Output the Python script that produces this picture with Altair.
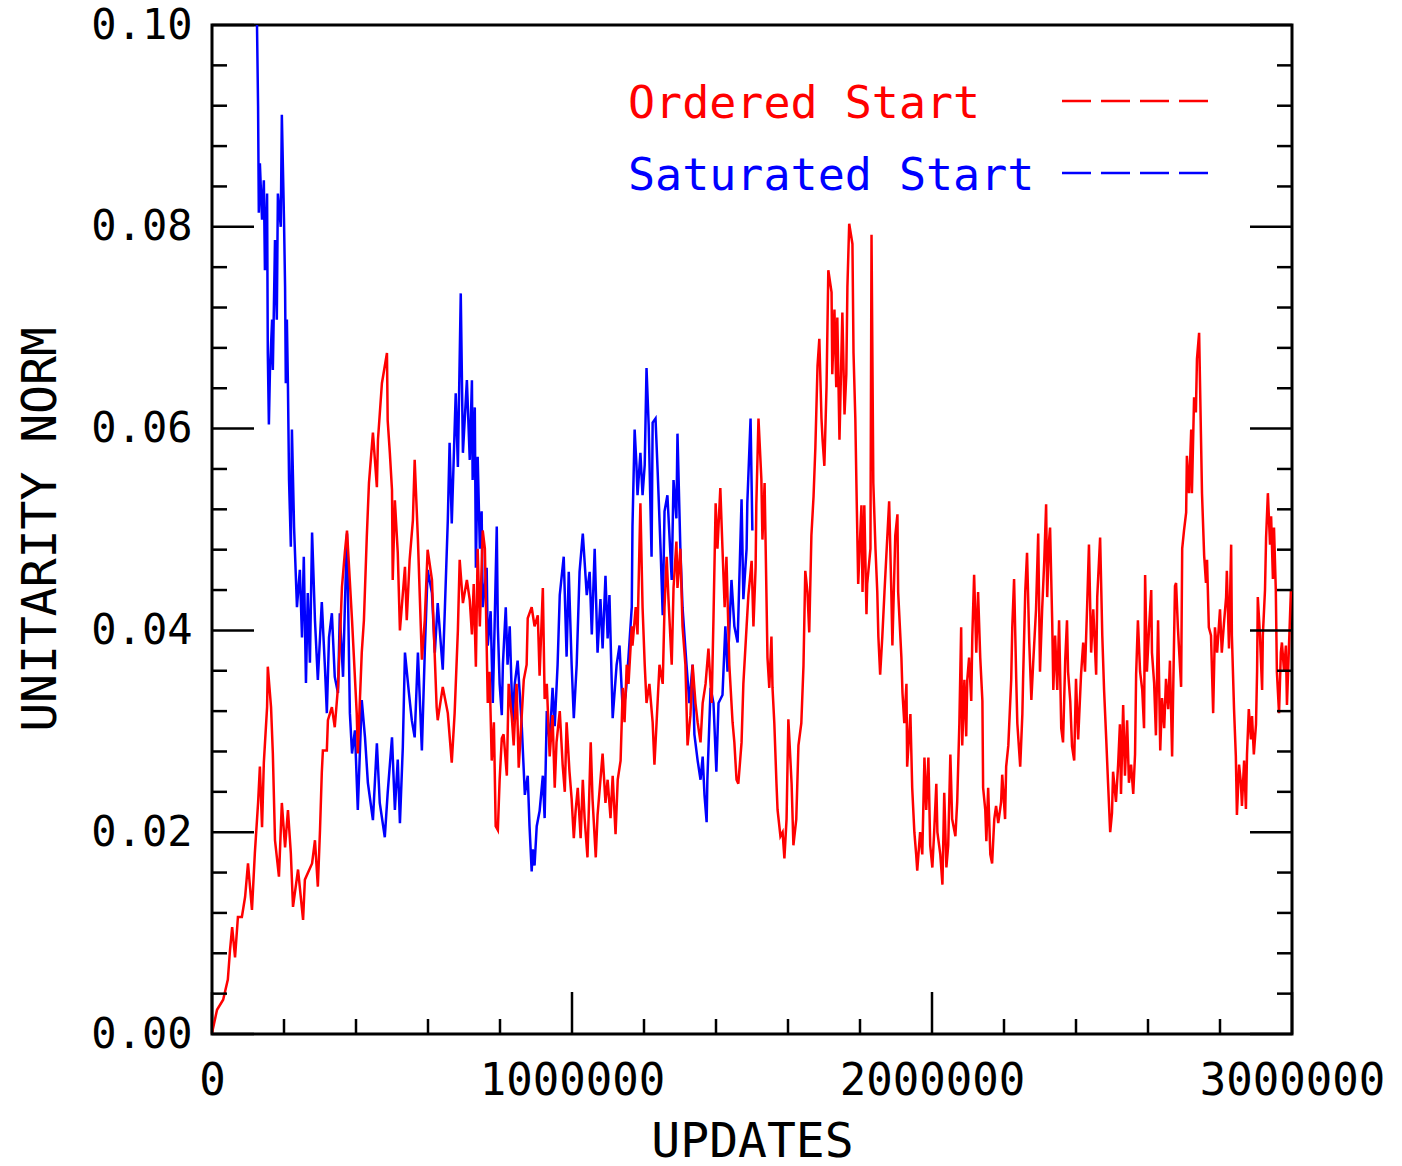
import altair as alt
import pandas as pd

FONT = "DejaVu Sans Mono"

# ---- data (updates in thousands) ----
RED_UPDATES_K = [
    0, 14, 31, 44, 50, 56, 64, 72, 83, 92,
    100, 111, 119, 128, 133, 139, 144, 153, 155, 164,
    169, 175, 186, 194, 203, 211, 219, 225, 239, 253,
    258, 278, 286, 294, 300, 305, 308, 319, 322, 333,
    341, 350, 355, 361, 369, 375, 389, 402, 405, 416,
    422, 430, 436, 447, 458, 461, 472, 486, 488, 494,
    500, 502, 508, 516, 522, 536, 541, 549, 558, 563,
    572, 583, 591, 599, 611, 624, 627, 641, 655, 666,
    674, 683, 688, 697, 708, 716, 722, 727, 733, 738,
    744, 752, 758, 766, 771, 777, 783, 788, 794, 799,
    805, 810, 819, 824, 833, 838, 846, 852, 860, 866,
    874, 877, 888, 896, 905, 910, 919, 924, 930, 938,
    946, 952, 957, 966, 974, 980, 985, 993, 999, 1005,
    1010, 1016, 1024, 1030, 1035, 1043, 1052, 1057, 1066, 1071,
    1079, 1085, 1093, 1099, 1107, 1113, 1121, 1127, 1135, 1141,
    1146, 1152, 1157, 1166, 1168, 1177, 1182, 1190, 1196, 1202,
    1207, 1215, 1224, 1229, 1235, 1243, 1252, 1257, 1263, 1268,
    1277, 1282, 1290, 1293, 1301, 1307, 1315, 1321, 1329, 1335,
    1343, 1349, 1357, 1363, 1371, 1379, 1388, 1393, 1399, 1404,
    1412, 1418, 1424, 1429, 1437, 1446, 1451, 1457, 1462, 1471,
    1476, 1485, 1490, 1499, 1504, 1510, 1512, 1518, 1526, 1529,
    1535, 1540, 1543, 1548, 1554, 1557, 1562, 1568, 1571, 1579,
    1585, 1590, 1596, 1601, 1610, 1615, 1623, 1629, 1637, 1643,
    1648, 1654, 1659, 1665, 1671, 1676, 1682, 1687, 1693, 1696,
    1701, 1707, 1712, 1721, 1723, 1729, 1734, 1737, 1743, 1751,
    1757, 1762, 1765, 1770, 1779, 1782, 1787, 1790, 1795, 1804,
    1807, 1812, 1818, 1820, 1829, 1832, 1837, 1843, 1848, 1851,
    1856, 1862, 1868, 1873, 1881, 1887, 1890, 1898, 1904, 1906,
    1915, 1918, 1923, 1929, 1931, 1940, 1945, 1951, 1956, 1959,
    1967, 1973, 1979, 1984, 1990, 1995, 2001, 2006, 2012, 2015,
    2023, 2029, 2034, 2040, 2045, 2051, 2056, 2065, 2070, 2076,
    2081, 2084, 2090, 2095, 2098, 2103, 2109, 2112, 2117, 2123,
    2128, 2134, 2140, 2142, 2148, 2151, 2156, 2162, 2167, 2173,
    2178, 2184, 2192, 2195, 2203, 2206, 2212, 2220, 2223, 2228,
    2234, 2237, 2245, 2251, 2253, 2259, 2264, 2270, 2276, 2281,
    2289, 2295, 2300, 2306, 2312, 2317, 2320, 2325, 2328, 2334,
    2337, 2342, 2348, 2353, 2359, 2364, 2370, 2375, 2378, 2384,
    2389, 2395, 2400, 2406, 2414, 2420, 2425, 2431, 2436, 2442,
    2448, 2456, 2459, 2467, 2473, 2478, 2484, 2489, 2495, 2500,
    2503, 2511, 2517, 2522, 2525, 2531, 2536, 2542, 2547, 2553,
    2559, 2564, 2567, 2572, 2578, 2584, 2589, 2592, 2597, 2603,
    2609, 2611, 2617, 2622, 2628, 2634, 2639, 2645, 2650, 2656,
    2661, 2667, 2670, 2675, 2678, 2683, 2692, 2695, 2700, 2706,
    2708, 2714, 2720, 2722, 2728, 2733, 2736, 2742, 2747, 2750,
    2756, 2761, 2764, 2769, 2775, 2781, 2786, 2792, 2800, 2805,
    2811, 2817, 2819, 2825, 2831, 2833, 2839, 2844, 2847, 2853,
    2858, 2861, 2867, 2872, 2875, 2880, 2886, 2889, 2894, 2900,
    2903, 2905, 2911, 2917, 2919, 2925, 2928, 2933, 2939, 2942,
    2947, 2950, 2955, 2958, 2964, 2969, 2972, 2978, 2983, 2986,
    2991, 2997,
]
RED_NORM = [
    0.0001, 0.0024, 0.0034, 0.0054, 0.0083, 0.0106, 0.0076, 0.0116, 0.0116, 0.0136,
    0.0169, 0.0123, 0.0179, 0.0229, 0.0265, 0.0205, 0.0269, 0.0324, 0.0364, 0.0324,
    0.0278, 0.0192, 0.0156, 0.0229, 0.0185, 0.0222, 0.0179, 0.0126, 0.0163, 0.0113,
    0.0153, 0.0169, 0.0192, 0.0146, 0.0202, 0.0259, 0.0281, 0.0281, 0.0311, 0.0324,
    0.0304, 0.0344, 0.0387, 0.0443, 0.0477, 0.0499, 0.0410, 0.0318, 0.0278, 0.0378,
    0.0410, 0.0493, 0.0546, 0.0596, 0.0542, 0.0589, 0.0645, 0.0675, 0.0608, 0.0576,
    0.0539, 0.0450, 0.0529, 0.0477, 0.0400, 0.0463, 0.0410, 0.0470, 0.0509, 0.0569,
    0.0490, 0.0371, 0.0410, 0.0480, 0.0450, 0.0324, 0.0311, 0.0344, 0.0318, 0.0269,
    0.0318, 0.0400, 0.0470, 0.0427, 0.0450, 0.0430, 0.0396, 0.0446, 0.0364, 0.0481,
    0.0404, 0.0499, 0.0481, 0.0328, 0.0359, 0.0271, 0.0309, 0.0206, 0.0202, 0.0252,
    0.0293, 0.0297, 0.0256, 0.0347, 0.0313, 0.0286, 0.0347, 0.0264, 0.0313, 0.0351,
    0.0366, 0.0412, 0.0423, 0.0404, 0.0415, 0.0355, 0.0442, 0.0332, 0.0347, 0.0275,
    0.0316, 0.0244, 0.0289, 0.0320, 0.0267, 0.0240, 0.0309, 0.0260, 0.0233, 0.0194,
    0.0221, 0.0244, 0.0194, 0.0252, 0.0214, 0.0175, 0.0289, 0.0233, 0.0175, 0.0217,
    0.0252, 0.0278, 0.0229, 0.0252, 0.0214, 0.0256, 0.0198, 0.0252, 0.0271, 0.0343,
    0.0309, 0.0366, 0.0347, 0.0404, 0.0385, 0.0423, 0.0396, 0.0526, 0.0423, 0.0366,
    0.0328, 0.0347, 0.0309, 0.0267, 0.0309, 0.0366, 0.0347, 0.0423, 0.0473, 0.0431,
    0.0366, 0.0442, 0.0488, 0.0442, 0.0481, 0.0404, 0.0366, 0.0286, 0.0316, 0.0366,
    0.0328, 0.0309, 0.0289, 0.0328, 0.0347, 0.0382, 0.0328, 0.0412, 0.0526, 0.0481,
    0.0541, 0.0481, 0.0423, 0.0473, 0.0366, 0.0309, 0.0289, 0.0252, 0.0248, 0.0289,
    0.0347, 0.0404, 0.0435, 0.0469, 0.0404, 0.0462, 0.0524, 0.0610, 0.0550, 0.0490,
    0.0546, 0.0438, 0.0373, 0.0343, 0.0394, 0.0343, 0.0308, 0.0248, 0.0222, 0.0196,
    0.0200, 0.0174, 0.0213, 0.0312, 0.0248, 0.0187, 0.0213, 0.0286, 0.0308, 0.0365,
    0.0459, 0.0438, 0.0398, 0.0494, 0.0533, 0.0581, 0.0662, 0.0689, 0.0610, 0.0589,
    0.0563, 0.0641, 0.0757, 0.0735, 0.0654, 0.0718, 0.0641, 0.0710, 0.0589, 0.0715,
    0.0614, 0.0654, 0.0740, 0.0803, 0.0783, 0.0675, 0.0610, 0.0546, 0.0446, 0.0524,
    0.0438, 0.0524, 0.0416, 0.0446, 0.0481, 0.0792, 0.0546, 0.0481, 0.0438, 0.0394,
    0.0356, 0.0394, 0.0438, 0.0473, 0.0528, 0.0438, 0.0385, 0.0494, 0.0515, 0.0438,
    0.0373, 0.0338, 0.0308, 0.0347, 0.0265, 0.0317, 0.0244, 0.0200, 0.0178, 0.0162,
    0.0200, 0.0178, 0.0274, 0.0222, 0.0274, 0.0187, 0.0165, 0.0200, 0.0248, 0.0200,
    0.0178, 0.0148, 0.0239, 0.0165, 0.0187, 0.0277, 0.0213, 0.0196, 0.0230, 0.0308,
    0.0403, 0.0286, 0.0351, 0.0295, 0.0351, 0.0373, 0.0330, 0.0394, 0.0455, 0.0378,
    0.0438, 0.0373, 0.0330, 0.0244, 0.0222, 0.0191, 0.0244, 0.0178, 0.0169, 0.0213,
    0.0226, 0.0209, 0.0230, 0.0257, 0.0213, 0.0265, 0.0286, 0.0351, 0.0403, 0.0451,
    0.0351, 0.0308, 0.0265, 0.0317, 0.0351, 0.0438, 0.0477, 0.0390, 0.0331, 0.0367,
    0.0421, 0.0496, 0.0359, 0.0421, 0.0470, 0.0525, 0.0433, 0.0488, 0.0502, 0.0407,
    0.0341, 0.0395, 0.0341, 0.0410, 0.0303, 0.0289, 0.0370, 0.0410, 0.0359, 0.0330,
    0.0285, 0.0271, 0.0352, 0.0292, 0.0356, 0.0388, 0.0359, 0.0425, 0.0485, 0.0378,
    0.0421, 0.0356, 0.0433, 0.0492, 0.0395, 0.0341, 0.0292, 0.0249, 0.0200, 0.0219,
    0.0260, 0.0230, 0.0267, 0.0307, 0.0238, 0.0326, 0.0256, 0.0311, 0.0249, 0.0267,
    0.0238, 0.0277, 0.0356, 0.0410, 0.0359, 0.0341, 0.0303, 0.0455, 0.0359, 0.0403,
    0.0440, 0.0378, 0.0348, 0.0296, 0.0410, 0.0281, 0.0333, 0.0303, 0.0352, 0.0322,
    0.0370, 0.0275, 0.0341, 0.0444, 0.0447, 0.0403, 0.0344, 0.0481, 0.0499, 0.0517,
    0.0573, 0.0536, 0.0599, 0.0536, 0.0631, 0.0616, 0.0669, 0.0695, 0.0595, 0.0536,
    0.0474, 0.0447, 0.0470, 0.0403, 0.0395, 0.0318, 0.0403, 0.0378, 0.0421, 0.0378,
    0.0407, 0.0433, 0.0459, 0.0382, 0.0485, 0.0395, 0.0322, 0.0275, 0.0217, 0.0267,
    0.0249, 0.0226, 0.0271, 0.0223, 0.0277, 0.0322, 0.0292, 0.0315, 0.0277, 0.0307,
    0.0359, 0.0433, 0.0395, 0.0341, 0.0395, 0.0440, 0.0492, 0.0536, 0.0485, 0.0513,
    0.0451, 0.0502, 0.0440, 0.0359, 0.0318, 0.0378, 0.0388, 0.0359, 0.0385, 0.0326,
    0.0378, 0.0440,
]

BLUE_UPDATES_K = [
    125, 128, 130, 133, 139, 144, 147, 153, 155, 158,
    161, 167, 169, 175, 180, 183, 191, 194, 200, 203,
    205, 208, 211, 214, 219, 222, 228, 236, 244, 250,
    255, 261, 266, 272, 278, 286, 294, 300, 305, 314,
    319, 325, 333, 341, 350, 355, 364, 369, 375, 383,
    389, 397, 405, 416, 425, 433, 447, 458, 466, 480,
    488, 500, 508, 516, 522, 530, 536, 547, 555, 563,
    572, 583, 591, 599, 611, 619, 627, 641, 647, 655,
    660, 666, 677, 683, 691, 697, 708, 716, 722, 724,
    730, 733, 738, 744, 749, 752, 763, 766, 774, 780,
    785, 791, 794, 799, 805, 808, 816, 821, 827, 835,
    841, 849, 860, 869, 877, 882, 888, 891, 896, 902,
    910, 919, 924, 930, 938, 946, 952, 960, 966, 977,
    985, 991, 999, 1005, 1013, 1021, 1030, 1041, 1049, 1055,
    1063, 1071, 1079, 1085, 1093, 1099, 1104, 1113, 1124, 1132,
    1141, 1149, 1157, 1166, 1168, 1174, 1179, 1182, 1190, 1196,
    1202, 1207, 1213, 1221, 1224, 1232, 1238, 1246, 1252, 1257,
    1265, 1277, 1282, 1290, 1293, 1301, 1307, 1318, 1326, 1335,
    1340, 1349, 1357, 1363, 1368, 1374, 1376, 1385, 1393, 1401,
    1407, 1418, 1426, 1432, 1443, 1451, 1460, 1471, 1476, 1485,
    1487, 1496, 1501,
]
BLUE_NORM = [
    0.1000, 0.0919, 0.0814, 0.0863, 0.0807, 0.0846, 0.0757, 0.0833, 0.0675, 0.0604,
    0.0658, 0.0708, 0.0658, 0.0787, 0.0708, 0.0833, 0.0800, 0.0911, 0.0807, 0.0740,
    0.0645, 0.0708, 0.0641, 0.0549, 0.0483, 0.0599, 0.0502, 0.0423, 0.0460, 0.0393,
    0.0473, 0.0348, 0.0437, 0.0368, 0.0497, 0.0410, 0.0351, 0.0393, 0.0428, 0.0361,
    0.0318, 0.0393, 0.0417, 0.0354, 0.0338, 0.0417, 0.0354, 0.0423, 0.0496, 0.0318,
    0.0278, 0.0301, 0.0222, 0.0331, 0.0294, 0.0249, 0.0212, 0.0288, 0.0229, 0.0195,
    0.0239, 0.0294, 0.0222, 0.0272, 0.0209, 0.0284, 0.0378, 0.0338, 0.0311, 0.0294,
    0.0378, 0.0281, 0.0378, 0.0460, 0.0437, 0.0378, 0.0427, 0.0361, 0.0423, 0.0509,
    0.0586, 0.0506, 0.0635, 0.0562, 0.0734, 0.0576, 0.0648, 0.0569, 0.0648, 0.0549,
    0.0621, 0.0462, 0.0572, 0.0481, 0.0518, 0.0423, 0.0462, 0.0385, 0.0419, 0.0328,
    0.0404, 0.0503, 0.0404, 0.0347, 0.0316, 0.0366, 0.0423, 0.0366, 0.0404, 0.0309,
    0.0347, 0.0370, 0.0309, 0.0237, 0.0256, 0.0206, 0.0161, 0.0183, 0.0167, 0.0206,
    0.0221, 0.0256, 0.0214, 0.0320, 0.0289, 0.0343, 0.0305, 0.0366, 0.0435, 0.0473,
    0.0374, 0.0458, 0.0366, 0.0313, 0.0366, 0.0458, 0.0496, 0.0435, 0.0458, 0.0396,
    0.0481, 0.0378, 0.0431, 0.0382, 0.0454, 0.0392, 0.0435, 0.0313, 0.0366, 0.0385,
    0.0320, 0.0336, 0.0374, 0.0423, 0.0503, 0.0599, 0.0564, 0.0534, 0.0576, 0.0534,
    0.0564, 0.0660, 0.0603, 0.0473, 0.0606, 0.0610, 0.0557, 0.0481, 0.0415, 0.0518,
    0.0534, 0.0450, 0.0549, 0.0511, 0.0595, 0.0481, 0.0423, 0.0366, 0.0328, 0.0366,
    0.0297, 0.0271, 0.0252, 0.0275, 0.0237, 0.0210, 0.0252, 0.0343, 0.0328, 0.0260,
    0.0328, 0.0336, 0.0404, 0.0359, 0.0450, 0.0404, 0.0388, 0.0530, 0.0431, 0.0481,
    0.0526, 0.0610, 0.0499,
]

SERIES = ["Ordered Start", "Saturated Start"]
COLORS = ["#ff0000", "#0000ff"]

X_MAJOR = [0, 1000000, 2000000, 3000000]
X_MINOR = [200000, 400000, 600000, 800000, 1200000, 1400000, 1600000, 1800000,
           2200000, 2400000, 2600000, 2800000]
Y_MAJOR = [0.0, 0.02, 0.04, 0.06, 0.08, 0.10]
Y_MINOR = [0.004, 0.008, 0.012, 0.016, 0.024, 0.028, 0.032, 0.036,
           0.044, 0.048, 0.052, 0.056, 0.064, 0.068, 0.072, 0.076,
           0.084, 0.088, 0.092, 0.096]

W, H = 1080, 1009

red_df = pd.DataFrame({"updates": [k * 1000 for k in RED_UPDATES_K], "norm": RED_NORM})
blue_df = pd.DataFrame({"updates": [k * 1000 for k in BLUE_UPDATES_K], "norm": BLUE_NORM})

xscale = alt.Scale(domain=[0, 3000000], nice=False, zero=False)
yscale = alt.Scale(domain=[0, 0.1], nice=False, zero=False)

x_axis = alt.Axis(
    values=X_MAJOR, format="d", labelFont=FONT, labelFontSize=44, labelColor="black",
    labelPadding=60, labelBaseline="alphabetic", labelFlush=False, labelOverlap=False,
    labelLimit=1000,
    ticks=False, domain=False, grid=False,
    title="UPDATES", titleFont=FONT, titleFontSize=48, titleFontWeight="normal",
    titleColor="black", titleX=540, titleY=122, titleBaseline="alphabetic", titleAlign="center",
    titleLimit=1000,
)
y_axis = alt.Axis(
    values=Y_MAJOR, format=".2f", labelFont=FONT, labelFontSize=42, labelColor="black",
    labelPadding=20, labelFlush=False, labelOverlap=False, labelLimit=1000,
    ticks=False, domain=False, grid=False,
    title="UNITARITY NORM", titleFont=FONT, titleFontSize=48, titleFontWeight="normal",
    titleColor="black", titleAngle=270, titleX=-157, titleY=504,
    titleBaseline="alphabetic", titleAlign="center", titleLimit=1000,
)

X_ENC = alt.X("updates:Q", scale=xscale, axis=x_axis)
Y_ENC = alt.Y("norm:Q", scale=yscale, axis=y_axis)

blue_line = alt.Chart(blue_df).mark_line(color=COLORS[1], strokeWidth=2.5).encode(
    x=X_ENC, y=Y_ENC, order="updates:Q",
)
red_line = alt.Chart(red_df).mark_line(color=COLORS[0], strokeWidth=2.5).encode(
    x=X_ENC, y=Y_ENC, order="updates:Q",
)

TICK = dict(color="black", strokeWidth=2.5)
ymaj_df = pd.DataFrame({"norm": Y_MAJOR})
ymin_df = pd.DataFrame({"norm": Y_MINOR})
xmaj_df = pd.DataFrame({"updates": X_MAJOR})
xmin_df = pd.DataFrame({"updates": X_MINOR})

def yticks(df, x0, x1):
    return alt.Chart(df).mark_rule(**TICK).encode(y=Y_ENC, x=alt.value(x0), x2=alt.value(x1))

def xticks(df, length):
    return alt.Chart(df).mark_rule(**TICK).encode(x=X_ENC, y=alt.value(H), y2=alt.value(H - length))

ticks = [
    yticks(ymaj_df, 0, 42), yticks(ymin_df, 0, 15),
    yticks(ymaj_df, W - 42, W), yticks(ymin_df, W - 15, W),
    xticks(xmaj_df, 42), xticks(xmin_df, 15),
]

legend_layers = []
for i, (name, col) in enumerate(zip(SERIES, COLORS)):
    ldf = pd.DataFrame({"label": [name]})
    legend_layers.append(
        alt.Chart(ldf).mark_text(font=FONT, fontSize=45, align="left", baseline="alphabetic",
                                 color=col).encode(
            x=alt.value(416), y=alt.value(93 + 72 * i), text="label:N"))
    legend_layers.append(
        alt.Chart(ldf).mark_rule(color=col, strokeWidth=2.5, strokeDash=[29, 10]).encode(
            x=alt.value(850), x2=alt.value(998), y=alt.value(76 + 72 * i)))

chart = alt.layer(blue_line, red_line, *ticks, *legend_layers).properties(
    width=W, height=H,
    autosize=alt.AutoSizeParams(type="none"),
    padding={"left": 212, "top": 25, "right": 110, "bottom": 132},
    background="white",
).configure_view(stroke="black", strokeWidth=3)

chart.save("out.html", embed_options={"renderer": "svg", "actions": False})
